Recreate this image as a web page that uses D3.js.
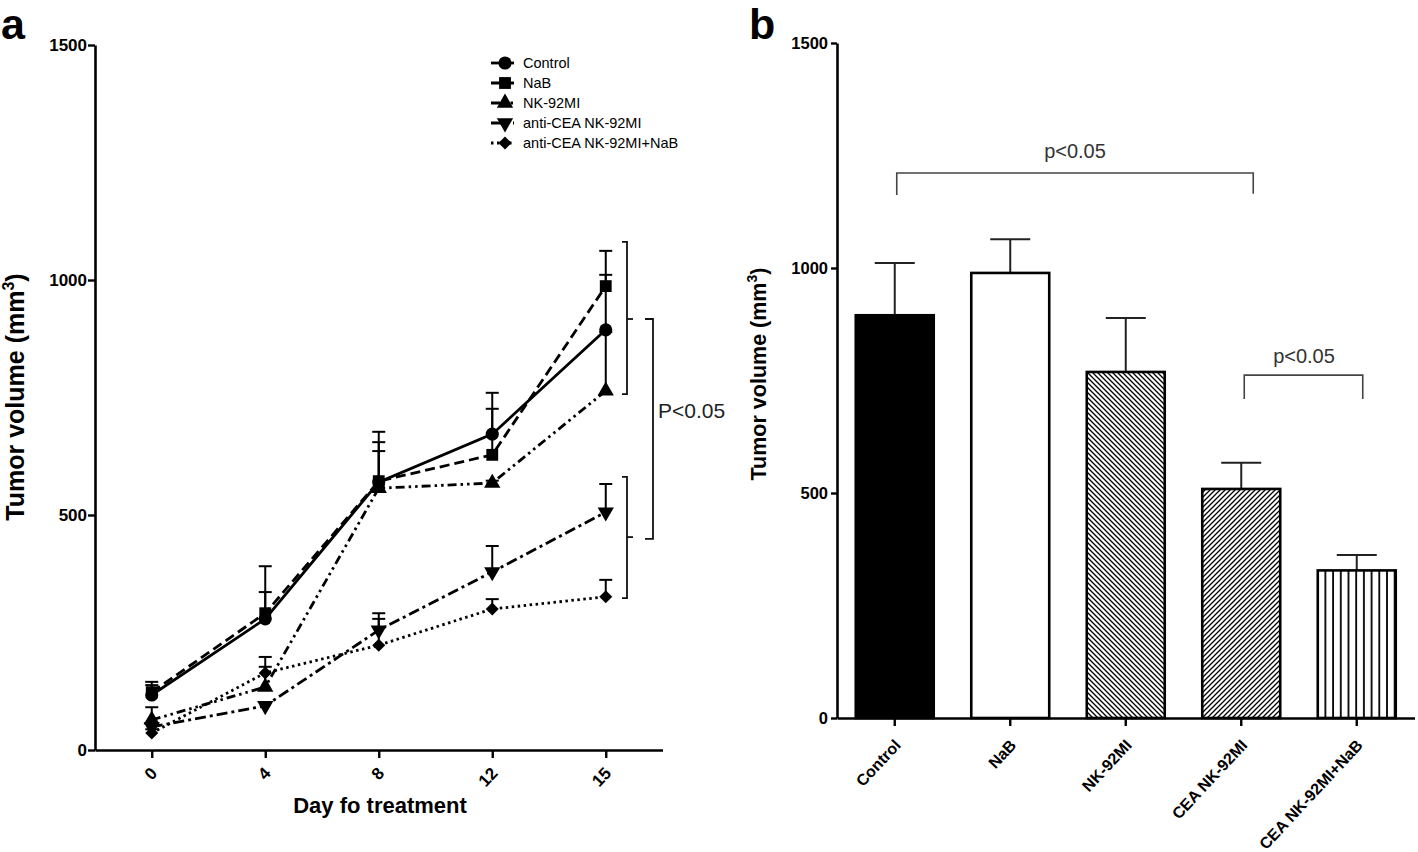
<!DOCTYPE html>
<html>
<head>
<meta charset="utf-8">
<script src="https://cdn.jsdelivr.net/npm/d3@7"></script>
<style>
  html, body { margin: 0; padding: 0; background: #fff; }
  svg { display: block; }
  text { font-family: "Liberation Sans", Arial, Helvetica, sans-serif; }
</style>
</head>
<body>
<svg id="chart" width="1418" height="852"></svg>
<script>
// ---------------- DATA ----------------
// Panel a: tumor volume over days of treatment
const days = ["0", "4", "8", "12", "15"];
const seriesNames = ["Control", "NaB", "NK-92MI", "anti-CEA NK-92MI", "anti-CEA NK-92MI+NaB"];
const controlMean = [117, 279, 570, 672, 894];
const controlErr  = [21, 112, 107, 88, 117];
const nabMean     = [123, 291, 572, 628, 987];
const nabErr      = [22, 45, 83, 98, 75];
const nkMean      = [64, 134, 557, 568, 764];
const nkErr       = [27, 43, 79, 5, 125];
const ceaMean     = [49, 94, 255, 379, 506];
const ceaErr      = [8, 8, 36, 55, 60];
const ceaNabMean  = [36, 164, 223, 300, 326];
const ceaNabErr   = [8, 34, 56, 21, 36];
const yTicksA = [0, 500, 1000, 1500];

// Panel b: tumor volume at end of treatment
const groups  = ["Control", "NaB", "NK-92MI", "CEA NK-92MI", "CEA NK-92MI+NaB"];
const barMean = [895, 989, 769, 509, 328];
const barErr  = [116, 75, 120, 58, 34];
const yTicksB = [0, 500, 1000, 1500];

// ---------------- DRAW ----------------
const svg = d3.select("#chart");
const FONT = '"Liberation Sans", Arial, Helvetica, sans-serif';

// patterns
const defs = svg.append("defs");
function hatch(id, w, h, path, sw) {
  const p = defs.append("pattern").attr("id", id).attr("patternUnits", "userSpaceOnUse")
    .attr("width", w).attr("height", h);
  p.append("rect").attr("width", w).attr("height", h).attr("fill", "#fff");
  p.append("path").attr("d", path).attr("stroke", "#000").attr("stroke-width", sw).attr("fill", "none");
}
hatch("hatchBack", 5, 5, "M-1,-1 L6,6 M-1,4 L1,6 M4,-1 L6,1", 1.3);   // "\\\"
hatch("hatchFwd", 5, 5, "M-1,6 L6,-1 M-1,1 L1,-1 M4,6 L6,4", 1.3);    // "///"
hatch("vert", 7.7, 10, "M1,0 L1,10", 1.8);                              // "|||"

// ===== Panel a =====
const ya = d3.scaleLinear().domain([0, 1500]).range([750, 45]);
const xa = d3.scalePoint().domain(days).range([95, 662.5]).padding(0.5);

const gA = svg.append("g");

// axes
const yAxisA = gA.append("g").attr("transform", "translate(95,0)")
  .call(d3.axisLeft(ya).tickValues(yTicksA).tickSize(7).tickSizeOuter(0).tickFormat(d3.format("d")));
const xAxisA = gA.append("g").attr("transform", "translate(0,750)")
  .call(d3.axisBottom(xa).tickSize(8).tickSizeOuter(0));
[yAxisA, xAxisA].forEach(a => {
  a.select(".domain").attr("stroke", "#000").attr("stroke-width", 2.6);
  a.selectAll(".tick line").attr("stroke", "#000").attr("stroke-width", 2.4);
});
yAxisA.selectAll(".tick text").attr("font-family", FONT).attr("font-size", 17)
  .attr("font-weight", "bold").attr("fill", "#000").attr("x", -8);
xAxisA.selectAll(".tick text").attr("font-family", FONT).attr("font-size", 17)
  .attr("font-weight", "bold").attr("fill", "#000")
  .attr("text-anchor", "end").attr("dy", null).attr("y", null)
  .attr("transform", "translate(6,24) rotate(-47)");

// axis titles
gA.append("text").attr("transform", "translate(24,397) rotate(-90)")
  .attr("text-anchor", "middle").attr("font-size", 25).attr("font-weight", "bold")
  .call(t => {
    t.append("tspan").text("Tumor volume (mm");
    t.append("tspan").attr("font-size", 16).attr("dy", -10).text("3");
    t.append("tspan").attr("dy", 10).text(")");
  });
gA.append("text").attr("x", 380).attr("y", 813).attr("text-anchor", "middle")
  .attr("font-size", 22).attr("font-weight", "bold").text("Day fo treatment");
gA.append("text").attr("x", 1).attr("y", 39).attr("font-size", 43).attr("font-weight", "bold").text("a");

// series
const means = [controlMean, nabMean, nkMean, ceaMean, ceaNabMean];
const errs = [controlErr, nabErr, nkErr, ceaErr, ceaNabErr];
const dashes = [null, "10,5", "9,4,2.5,4,2.5,4", "11,4,3,4", "2.5,3.5"];
const sym = [
  {type: d3.symbolCircle, size: 135, rot: 0},
  {type: d3.symbolSquare, size: 140, rot: 0},
  {type: d3.symbolTriangle, size: 115, rot: 0},
  {type: d3.symbolTriangle, size: 115, rot: 180},
  {type: d3.symbolSquare, size: 85, rot: 45}
];
const line = d3.line().x(d => xa(d.day)).y(d => ya(d.v));

// error bars (upper only)
means.forEach((m, si) => {
  const pts = days.map((d, i) => ({day: d, v: m[i], e: errs[si][i]}));
  const eg = gA.append("g").attr("stroke", "#000").attr("stroke-width", 2);
  eg.selectAll("line.v").data(pts).join("line").attr("class", "v")
    .attr("x1", d => xa(d.day)).attr("x2", d => xa(d.day))
    .attr("y1", d => ya(d.v)).attr("y2", d => ya(d.v + d.e));
  eg.selectAll("line.c").data(pts).join("line").attr("class", "c")
    .attr("x1", d => xa(d.day) - 6.5).attr("x2", d => xa(d.day) + 6.5)
    .attr("y1", d => ya(d.v + d.e)).attr("y2", d => ya(d.v + d.e));
});
means.forEach((m, si) => {
  const pts = days.map((d, i) => ({day: d, v: m[i]}));
  gA.append("path").datum(pts).attr("d", line).attr("fill", "none")
    .attr("stroke", "#000").attr("stroke-width", 2.8)
    .attr("stroke-dasharray", dashes[si]);
  gA.selectAll(null).data(pts).join("path")
    .attr("d", d3.symbol().type(sym[si].type).size(sym[si].size))
    .attr("transform", d => `translate(${xa(d.day)},${ya(d.v)}) rotate(${sym[si].rot})`)
    .attr("fill", "#000");
});

// legend
const lg = gA.append("g");
seriesNames.forEach((n, i) => {
  const y = 63 + i * 20;
  lg.append("line").attr("x1", 491).attr("x2", 514).attr("y1", y).attr("y2", y)
    .attr("stroke", "#000").attr("stroke-width", 2.8).attr("stroke-dasharray", dashes[i]);
  lg.append("path").attr("d", d3.symbol().type(sym[i].type).size(sym[i].size))
    .attr("transform", `translate(505,${y}) rotate(${sym[i].rot})`).attr("fill", "#000");
  lg.append("text").attr("x", 523).attr("y", y + 5).attr("font-size", 14.5).text(n);
});

// significance brackets (panel a)
const br = gA.append("g").attr("stroke", "#111").attr("stroke-width", 1.8).attr("fill", "none");
function sqBracket(x, v1, v2, mid, hookLeft) {
  br.append("path").attr("d",
    `M${x - hookLeft},${ya(v1)} H${x} V${ya(v2)} H${x - hookLeft}`);
  if (mid !== null) br.append("path").attr("d", `M${x},${ya(mid)} H${x + 6}`);
}
sqBracket(627, 1081, 757, 917, 5);
sqBracket(627, 581, 323, 453, 5);
sqBracket(653, 917, 449, null, 8);
gA.append("text").attr("x", 658).attr("y", 418).attr("font-size", 21).attr("fill", "#222").text("P<0.05");

// ===== Panel b =====
const yb = d3.scaleLinear().domain([0, 1500]).range([718, 43]);
const xb = d3.scaleBand().domain(groups).range([837, 1414.5]).paddingInner(0.325).paddingOuter(0.1625);
const gB = svg.append("g");
const fills = ["#000", "#fff", "url(#hatchBack)", "url(#hatchFwd)", "url(#vert)"];

const bars = groups.map((g, i) => ({g, v: barMean[i], e: barErr[i], f: fills[i]}));
// error bars
const ebg = gB.append("g").attr("stroke", "#222").attr("stroke-width", 2);
ebg.selectAll("line.v").data(bars).join("line").attr("class", "v")
  .attr("x1", d => xb(d.g) + xb.bandwidth() / 2).attr("x2", d => xb(d.g) + xb.bandwidth() / 2)
  .attr("y1", d => yb(d.v)).attr("y2", d => yb(d.v + d.e));
ebg.selectAll("line.c").data(bars).join("line").attr("class", "c")
  .attr("x1", d => xb(d.g) + xb.bandwidth() / 2 - 20).attr("x2", d => xb(d.g) + xb.bandwidth() / 2 + 20)
  .attr("y1", d => yb(d.v + d.e)).attr("y2", d => yb(d.v + d.e));
gB.selectAll("rect.bar").data(bars).join("rect").attr("class", "bar")
  .attr("x", d => xb(d.g)).attr("width", xb.bandwidth())
  .attr("y", d => yb(d.v)).attr("height", d => yb(0) - yb(d.v))
  .attr("fill", d => d.f).attr("stroke", "#000").attr("stroke-width", 2.6);

const yAxisB = gB.append("g").attr("transform", "translate(837,0)")
  .call(d3.axisLeft(yb).tickValues(yTicksB).tickSize(6).tickSizeOuter(0).tickFormat(d3.format("d")));
const xAxisB = gB.append("g").attr("transform", "translate(0,718)")
  .call(d3.axisBottom(xb).tickSize(8).tickSizeOuter(0));
[yAxisB, xAxisB].forEach(a => {
  a.select(".domain").attr("stroke", "#000").attr("stroke-width", 2.6);
  a.selectAll(".tick line").attr("stroke", "#000").attr("stroke-width", 2.4);
});
yAxisB.selectAll(".tick text").attr("font-family", FONT).attr("font-size", 16.5)
  .attr("font-weight", "bold").attr("fill", "#000").attr("x", -9);
xAxisB.selectAll(".tick text").attr("font-family", FONT).attr("font-size", 16)
  .attr("font-weight", "bold").attr("fill", "#000")
  .attr("text-anchor", "end").attr("dy", null).attr("y", null)
  .attr("transform", "translate(7,28) rotate(-47)");

gB.append("text").attr("transform", "translate(766,374) rotate(-90)")
  .attr("text-anchor", "middle").attr("font-size", 21.5).attr("font-weight", "bold")
  .call(t => {
    t.append("tspan").text("Tumor volume (mm");
    t.append("tspan").attr("font-size", 14).attr("dy", -9).text("3");
    t.append("tspan").attr("dy", 9).text(")");
  });
gB.append("text").attr("x", 749).attr("y", 39).attr("font-size", 43).attr("font-weight", "bold").text("b");

// significance brackets (panel b)
const cx = g => xb(g) + xb.bandwidth() / 2;
const bb = gB.append("g").attr("stroke", "#444").attr("stroke-width", 1.6).attr("fill", "none");
bb.append("path").attr("d",
  `M${cx("Control") + 2},${yb(1162)} V${yb(1211)} H${cx("CEA NK-92MI") + 12} V${yb(1165)}`);
bb.append("path").attr("d",
  `M${cx("CEA NK-92MI") + 3},${yb(709)} V${yb(762)} H${cx("CEA NK-92MI+NaB") + 6} V${yb(709)}`);
gB.append("text").attr("x", 1075).attr("y", 158).attr("text-anchor", "middle")
  .attr("font-size", 20).attr("fill", "#333").text("p<0.05");
gB.append("text").attr("x", 1304).attr("y", 363).attr("text-anchor", "middle")
  .attr("font-size", 20).attr("fill", "#333").text("p<0.05");
</script>
</body>
</html>
